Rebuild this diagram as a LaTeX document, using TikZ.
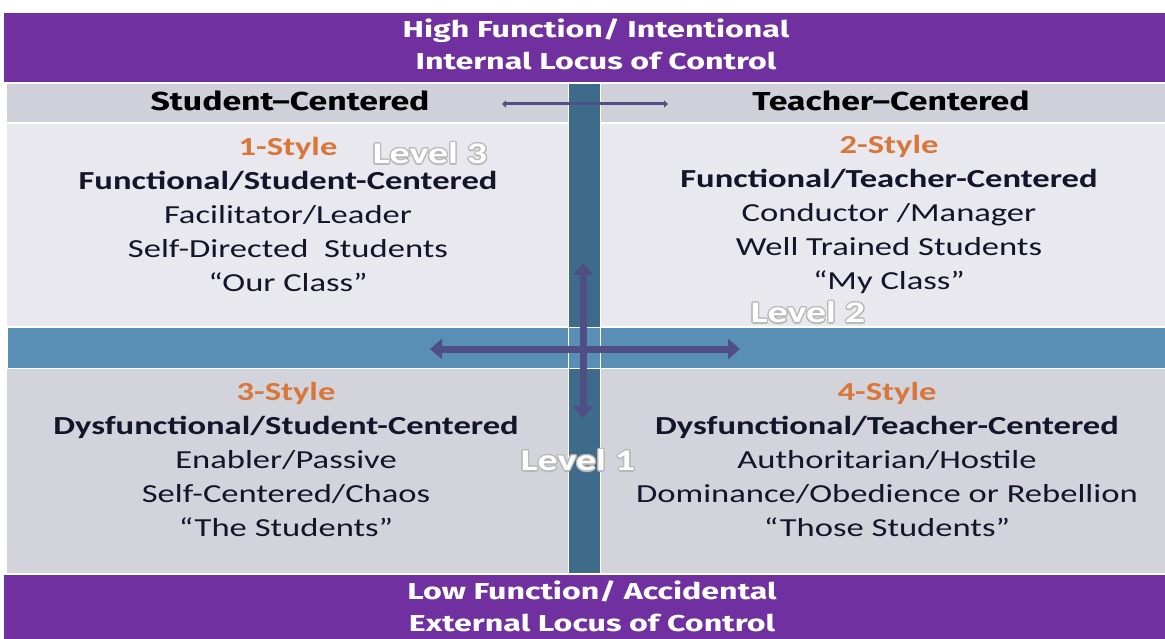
\documentclass[tikz,border=0pt]{standalone}
\usepackage{fontspec}
\setmainfont{Carlito}[FakeStretch=1.33]
\newfontfamily\bandf{Fira Sans}[FakeStretch=1.4]
\newfontfamily\hdrf{Fira Sans}[FakeStretch=1.3]
\usepackage[copies]{contour}
\contourlength{1.2pt}
\usetikzlibrary{arrows.meta}
\definecolor{purp}{HTML}{7030A0}
\definecolor{hdr}{HTML}{D0D0DA}
\definecolor{upq}{HTML}{E8E8EE}
\definecolor{lowq}{HTML}{D3D3DB}
\definecolor{vbar}{HTML}{3F6B8A}
\definecolor{band}{HTML}{5A8FB5}
\definecolor{arr}{HTML}{4F4F86}
\definecolor{sty}{HTML}{D9773A}
\definecolor{txt}{HTML}{14142A}
\tikzset{
  bandtxt/.style={text=white, font=\bandf\bfseries\fontsize{23}{32}\selectfont, align=center},
  hdrtxt/.style={text=black, font=\hdrf\bfseries\fontsize{26}{30}\selectfont},
  quad/.style={text=txt, align=center, font=\fontsize{26}{34}\selectfont},
  lvl/.style={font=\bfseries\fontsize{30}{34}\selectfont},
  bigarrow/.style={draw=arr, line width=7pt, {Triangle[width=20pt,length=12pt]}-{Triangle[width=20pt,length=12pt]}},
  smallarrow/.style={draw=arr, line width=3pt, {Triangle[width=7pt,length=4pt]}-{Triangle[width=7pt,length=4pt]}}
}
\newcommand{\stylab}[1]{\textcolor{sty}{\bfseries #1}}
\newcommand{\glow}[1]{\contour{gray!55}{\textcolor{white}{#1}}}
\begin{document}
\begin{tikzpicture}[x=1pt,y=-1pt]
\useasboundingbox (0,0) rectangle (1165,639);
\fill[white] (0,0) rectangle (1165,639);
% bands
\fill[purp] (4,13) rectangle (1165,82);
\fill[hdr] (7,84) rectangle (1165,122);
\fill[upq] (7,124) rectangle (1165,326);
\fill[lowq] (7,368) rectangle (1165,573);
\fill[purp] (4,575) rectangle (1165,639);
\filldraw[fill=vbar, draw=white, line width=1pt] (568,84) rectangle (600,573);
\filldraw[fill=band, draw=white, line width=1pt] (7,327) rectangle (1166,368);
\draw[white, line width=1pt] (568,327) -- (568,368) (600,327) -- (600,368);
% headers
\node[bandtxt] (top) at (596,44) {High Function/ Intentional\\Internal Locus of Control};
\node[bandtxt] (bot) at (592,606) {Low Function/ Accidental\\External Locus of Control};
\node[hdrtxt] (sc) at (290,101) {Student–Centered};
\node[hdrtxt] (tc) at (891,101) {Teacher–Centered};
% small arrow
\coordinate (saL) at (502,104);
\coordinate (saR) at (668,104);
\draw[smallarrow] (saL) -- (saR);
% quadrants
\node[quad] (q1) at (288,214) {\stylab{1-Style}\\\textbf{Functional/Student-Centered}\\Facilitator/Leader\\Self-Directed\ \ Students\\“Our Class”};
\node[quad] (q2) at (889,214) {\stylab{2-Style}\\\textbf{Functional/Teacher-Centered}\\Conductor /Manager\\Well Trained Students\\“My Class”};
\node[quad] (q3) at (286,459) {\stylab{3-Style}\\\textbf{Dysfunctional/Student-Centered}\\Enabler/Passive\\Self-Centered/Chaos\\“The Students”};
\node[quad] (q4) at (887,459) {\stylab{4-Style}\\\textbf{Dysfunctional/Teacher-Centered}\\Authoritarian/Hostile\\Dominance/Obedience or Rebellion\\“Those Students”};
% cross arrows
\coordinate (hL) at (430,349);
\coordinate (hR) at (740,349);
\coordinate (vT) at (583,263);
\coordinate (vB) at (583,418);
\draw[bigarrow] (vT) -- (vB);
\draw[bigarrow] (hL) -- (hR);
% levels
\node[lvl] (lv3) at (430,154) {\glow{Level 3}};
\node[lvl] (lv2) at (808,313) {\glow{Level 2}};
\node[lvl] (lv1) at (578,461) {\glow{Level 1}};
\end{tikzpicture}
\end{document}
